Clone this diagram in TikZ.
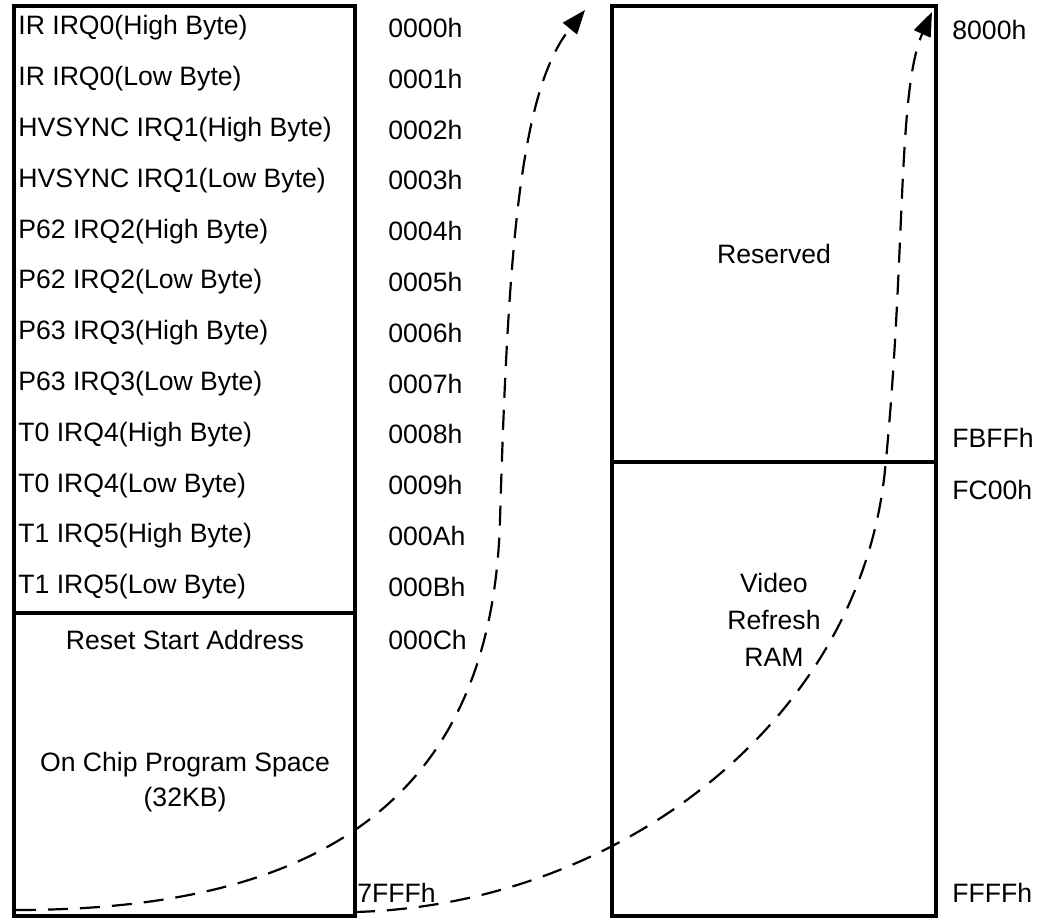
\documentclass[tikz,border=0pt]{standalone}
\usepackage{fontspec}
\setmainfont{Liberation Sans}
\usetikzlibrary{arrows.meta}

\begin{document}
\begin{tikzpicture}[x=0.5pt,y=-0.5pt]
\tikzset{mem/.style={line width=2pt},
  txt/.style={font=\fontsize{13.3}{15.6}\selectfont,inner sep=0pt},
  jump/.style={line width=1.1pt,dash pattern=on 10pt off 6pt,-{Triangle[length=12pt,width=9pt]}}}
\useasboundingbox (0,0) rectangle (1050,920);

% program memory
\draw[mem] (14,6) coordinate (pnw) rectangle (355,916) coordinate (pse);
\draw[mem] (14,613) -- (355,613);
\foreach \irq/\adr [count=\i from 0] in {IR IRQ0(High Byte)/0000h,IR IRQ0(Low Byte)/0001h,
  HVSYNC IRQ1(High Byte)/0002h,HVSYNC IRQ1(Low Byte)/0003h,P62 IRQ2(High Byte)/0004h,
  P62 IRQ2(Low Byte)/0005h,P63 IRQ3(High Byte)/0006h,P63 IRQ3(Low Byte)/0007h,
  T0 IRQ4(High Byte)/0008h,T0 IRQ4(Low Byte)/0009h,T1 IRQ5(High Byte)/000Ah,T1 IRQ5(Low Byte)/000Bh}
{
  \node[txt,anchor=west] (r\i) at (18,28+50.8*\i) {\irq};
  \node[txt,anchor=west] (a\i) at (388,28+50.8*\i) {\adr};
}
\node[txt] (reset) at (185,640) {Reset Start Address};
\node[txt,align=center] (chip) at (185,782) {On Chip Program Space\\[2pt](32KB)};
\node[txt,anchor=west] (a12) at (388,640) {000Ch};
\node[txt,anchor=west] (pend) at (357,893) {7FFFh};

% data memory
\draw[mem] (612,6) coordinate (dnw) rectangle (936,916) coordinate (dse);
\draw[mem] (612,462) -- (936,462);
\node[txt] (rsv) at (774,254) {Reserved};
\node[txt,align=center] (vram) at (774,620) {Video\\[3pt]Refresh\\[3pt]RAM};
\node[txt,anchor=west] (d0) at (952,30) {8000h};
\node[txt,anchor=west] (d1) at (952,438) {FBFFh};
\node[txt,anchor=west] (d2) at (952,490) {FC00h};
\node[txt,anchor=west] (d3) at (952,893) {FFFFh};

% mapping
\coordinate (s1) at (16,910);
\coordinate (m1) at (500,520);
\coordinate (e1) at (585,10);
\coordinate (s2) at (355,912);
\coordinate (m2) at (885,470);
\coordinate (e2) at (932,12);
\draw[jump] (s1) .. controls +(290,0) and +(-8,290) .. (m1) .. controls +(8,-270) and +(-65,80) .. (e1);
\draw[jump] (s2) .. controls +(265,-7) and +(-25,250) .. (m2) .. controls +(21,-210) and +(-35,78) .. (e2);
\end{tikzpicture}
\end{document}
